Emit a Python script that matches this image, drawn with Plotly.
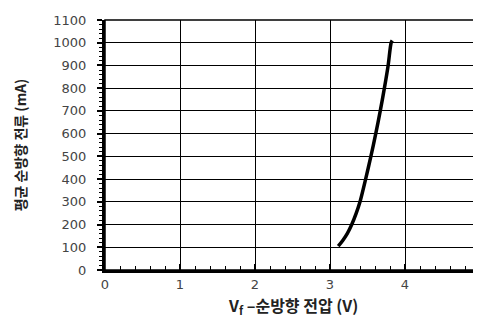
import plotly.graph_objects as go

voltage = [3.11, 3.17, 3.23, 3.29, 3.35, 3.40, 3.475, 3.545, 3.61, 3.67, 3.725, 3.775, 3.815, 3.83]
current = [105, 130, 160, 200, 250, 300, 400, 500, 600, 700, 800, 900, 1000, 1010]

x_ticks = [0, 1, 2, 3, 4, 5]
y_ticks = list(range(0, 1101, 100))
x_title = "V<sub>f</sub> –순방향 전압 (V)"
y_title = "평균 순방향 전류 (mA)"

fig = go.Figure()
fig.add_trace(go.Scatter(x=voltage, y=current, mode="lines",
                         line=dict(color="black", width=3.5, shape="spline", smoothing=0.8),
                         showlegend=False))

tickfont = dict(family="DejaVu Sans, Liberation Sans, sans-serif", size=13, color="#444")
titlefont_family = "Noto Sans CJK KR, DejaVu Sans, sans-serif"

fig.update_layout(
    width=481, height=317,
    margin=dict(l=97, r=5, t=10, b=55),
    paper_bgcolor="white", plot_bgcolor="white",
    xaxis=dict(range=[0, 5], tickvals=x_ticks, ticks="inside", ticklen=6, tickwidth=2,
               tickcolor="black", showgrid=True, gridcolor="black", gridwidth=1.3,
               showline=True, linecolor="black", linewidth=3, zeroline=False,
               ticklabelstandoff=0,
               minor=dict(dtick=0.2, ticks="inside", ticklen=4, tickcolor="black", tickwidth=1, showgrid=False),
               tickfont=tickfont),
    yaxis=dict(range=[0, 1100], tickvals=y_ticks, ticks="outside", ticklen=5, tickwidth=1.5,
               tickcolor="black", showgrid=True, gridcolor="black", gridwidth=1.3,
               showline=True, linecolor="black", linewidth=3, zeroline=False,
               ticklabelstandoff=8,
               minor=dict(dtick=20, ticks="outside", ticklen=3, tickcolor="black", tickwidth=1, showgrid=False),
               title=dict(text=y_title,
                          font=dict(size=14, color="#222", family=titlefont_family, weight="bold"), standoff=24),
               tickfont=tickfont),
    annotations=[dict(text=x_title, xref="paper", yref="paper", x=0.5, y=-0.14,
                      xanchor="center", yanchor="middle", showarrow=False,
                      font=dict(size=16, color="#222", family=titlefont_family, weight="bold"))],
)
fig.add_shape(type="rect", xref="paper", yref="paper", x0=0, y0=0, x1=1, y1=1,
              line=dict(color="black", width=1.5), layer="above")

fig.write_html("out.html")
